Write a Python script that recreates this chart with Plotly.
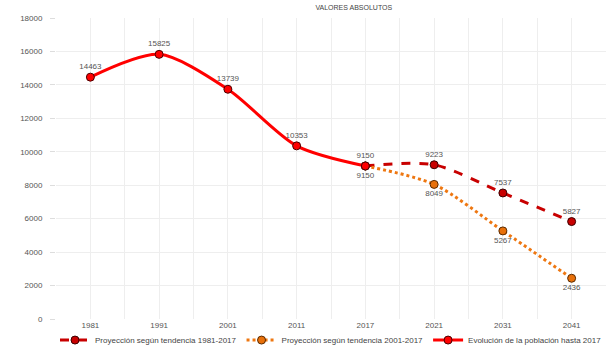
import plotly.graph_objects as go

# Census years and projection years shown on the x axis
years = ["1981", "1991", "2001", "2011", "2017", "2021", "2031", "2041"]

# Observed population up to 2017
hist_years = ["1981", "1991", "2001", "2011", "2017"]
hist_values = [14463, 15825, 13739, 10353, 9150]

# Projection following the 1981-2017 trend
proj81_years = ["2017", "2021", "2031", "2041"]
proj81_values = [9150, 9223, 7537, 5827]

# Projection following the 2001-2017 trend
proj01_years = ["2017", "2021", "2031", "2041"]
proj01_values = [9150, 8049, 5267, 2436]

y_ticks = [0, 2000, 4000, 6000, 8000, 10000, 12000, 14000, 16000, 18000]

pos = {y: i for i, y in enumerate(years)}

FONT = "Liberation Sans, Arial, sans-serif"
label_font = dict(family=FONT, size=8, color="#555555")

fig = go.Figure()

fig.add_trace(go.Scatter(
    x=[pos[y] for y in proj81_years], y=proj81_values,
    name="Proyección según tendencia 1981-2017",
    mode="lines+markers+text",
    line=dict(color="#c80000", width=3, dash="dash", shape="spline", smoothing=0.8),
    marker=dict(size=8, color="#c80000", line=dict(color="#3a0000", width=1)),
    text=[str(v) for v in proj81_values], textposition="top center",
    textfont=label_font,
))

fig.add_trace(go.Scatter(
    x=[pos[y] for y in proj01_years], y=proj01_values,
    name="Proyección según tendencia 2001-2017",
    mode="lines+markers+text",
    line=dict(color="#ee7711", width=3, dash="dot", shape="spline", smoothing=0.8),
    marker=dict(size=8, color="#e8700a", line=dict(color="#5a2a00", width=1)),
    text=[str(v) for v in proj01_values], textposition="bottom center",
    textfont=label_font,
))

fig.add_trace(go.Scatter(
    x=[pos[y] for y in hist_years], y=hist_values,
    name="Evolución de la población hasta 2017",
    mode="lines+markers+text",
    line=dict(color="#ff0000", width=3, shape="spline", smoothing=0.8),
    marker=dict(size=8, color="#ff0000", line=dict(color="#4a0000", width=1)),
    text=[str(v) for v in hist_values[:-1]] + [""], textposition="top center",
    textfont=label_font,
))

fig.update_layout(
    width=610, height=347,
    margin=dict(l=56, r=4, t=18, b=28, autoexpand=False),
    paper_bgcolor="white", plot_bgcolor="white",
    font=dict(family=FONT, size=8, color="#555555"),
    title=dict(text="VALORES ABSOLUTOS", x=0.58, xanchor="center", y=0.985, yanchor="top",
               font=dict(family=FONT, size=7, color="#444444")),
    showlegend=True,
    legend=dict(orientation="h", x=0.5, xanchor="center",
                yref="container", y=0.02, yanchor="middle",
                font=dict(family=FONT, size=8, color="#444444"),
                itemwidth=30, tracegroupgap=0, bgcolor="rgba(0,0,0,0)"),
)

fig.update_xaxes(
    range=[-0.5, len(years) - 0.5],
    tickvals=list(range(len(years))), ticktext=years,
    showgrid=True, gridcolor="#eeeeee", gridwidth=1,
    minor=dict(dtick=0.5, tick0=0, showgrid=True, gridcolor="#eeeeee"),
    zeroline=False, showline=False, ticks="",
    tickfont=dict(family=FONT, size=8, color="#555555"),
)

fig.update_yaxes(
    range=[0, 18000], tickvals=y_ticks, ticktext=[str(v) for v in y_ticks],
    showgrid=True, gridcolor="#eeeeee", gridwidth=1,
    zeroline=False, showline=False,
    ticks="outside", ticklen=5, tickcolor="#dddddd",
    ticklabelstandoff=6,
    tickfont=dict(family=FONT, size=8, color="#555555"),
)

fig.write_html("out.html")
